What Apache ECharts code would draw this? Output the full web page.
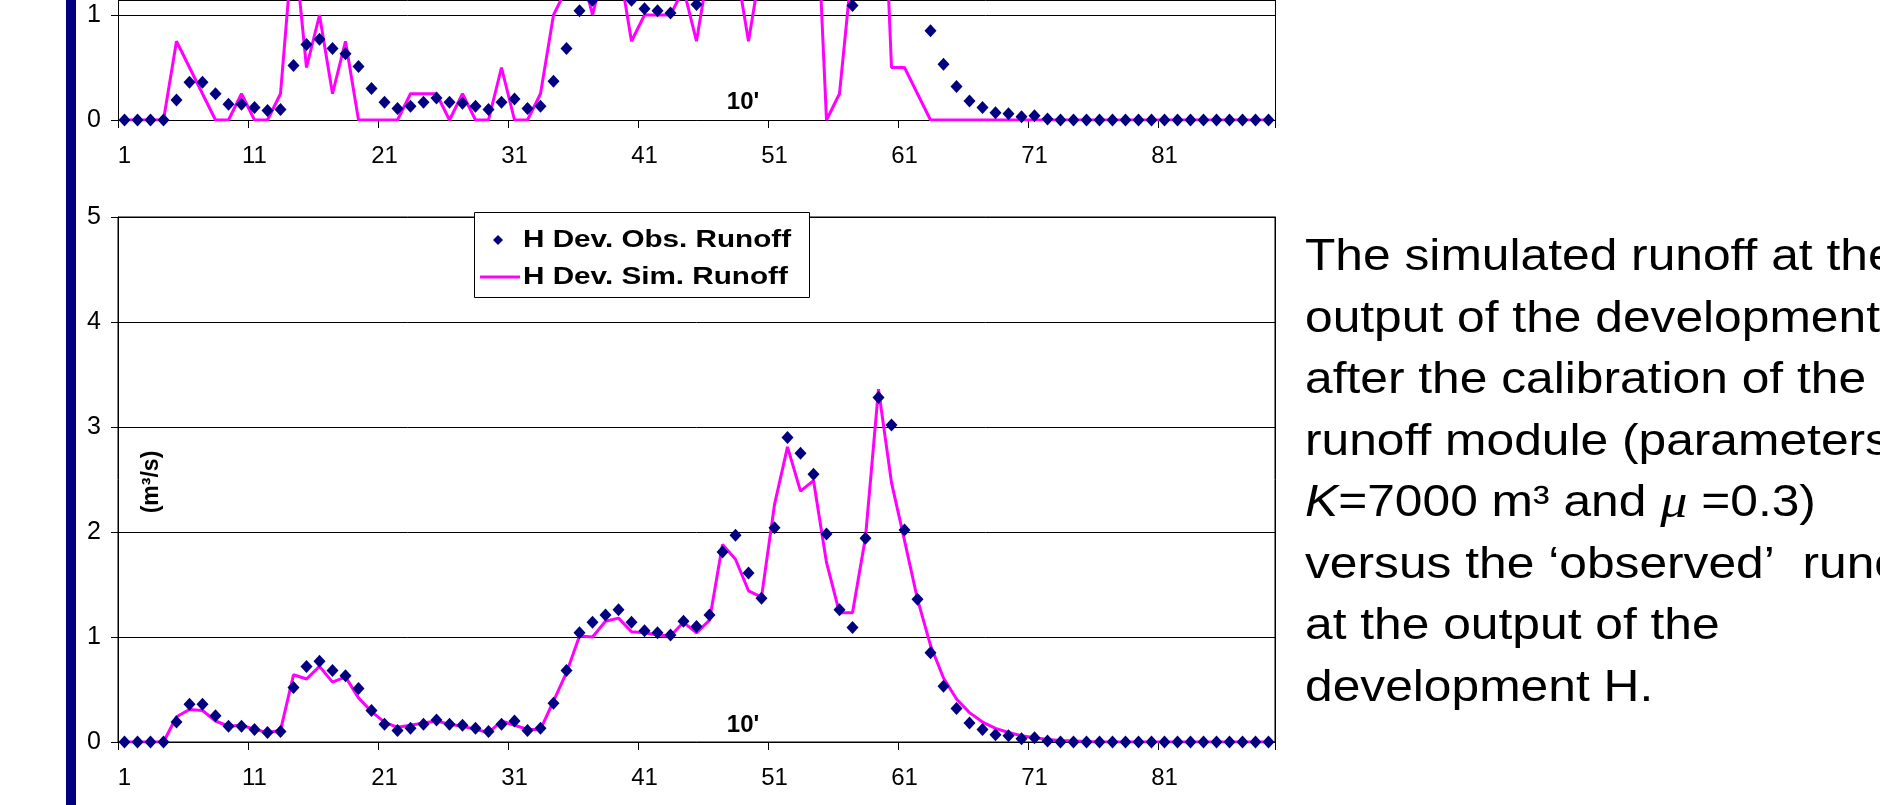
<!DOCTYPE html>
<html><head><meta charset="utf-8">
<script src="https://cdn.jsdelivr.net/npm/echarts@6/dist/echarts.min.js"></script>
<style>html,body{margin:0;padding:0;background:#fff;overflow:hidden}#c{width:1880px;height:805px}</style>
</head><body><div id="c"></div>
<script>
// ---- data ----
const categories = [1,2,3,4,5,6,7,8,9,10,11,12,13,14,15,16,17,18,19,20,21,22,23,24,25,26,27,28,29,30,
  31,32,33,34,35,36,37,38,39,40,41,42,43,44,45,46,47,48,49,50,51,52,53,54,55,56,57,58,59,60,
  61,62,63,64,65,66,67,68,69,70,71,72,73,74,75,76,77,78,79,80,81,82,83,84,85,86,87,88,89];
const obsRunoff = [0,0,0,0,0.19,0.36,0.36,0.25,0.15,0.15,0.12,0.09,0.10,0.52,0.72,0.77,0.68,0.63,0.51,0.30,
  0.17,0.11,0.13,0.17,0.21,0.17,0.16,0.13,0.10,0.17,0.20,0.11,0.13,0.37,0.68,1.04,1.14,1.21,1.26,1.14,
  1.06,1.04,1.02,1.15,1.10,1.21,1.81,1.97,1.61,1.37,2.04,2.90,2.75,2.55,1.98,1.26,1.09,1.94,3.28,3.02,
  2.02,1.36,0.85,0.53,0.32,0.18,0.12,0.07,0.06,0.03,0.04,0.01,0,0,0,0,0,0,0,0,0,0,0,0,0,0,0,0,0];
const simRunoffCalibrated = [0,0,0,0,0.24,0.31,0.30,0.20,0.15,0.16,0.12,0.09,0.11,0.64,0.60,0.72,0.57,0.62,0.42,0.29,
  0.19,0.14,0.16,0.18,0.20,0.17,0.15,0.12,0.09,0.20,0.16,0.12,0.12,0.39,0.66,1.01,1.00,1.15,1.18,1.05,
  1.04,1.02,1.01,1.14,1.04,1.16,1.88,1.74,1.44,1.38,2.26,2.81,2.39,2.49,1.71,1.23,1.23,1.95,3.36,2.47,
  1.92,1.36,0.92,0.61,0.41,0.28,0.19,0.13,0.09,0.06,0.04,0.025,0.015,0.01,0.005,0,0,0,0,0,0,0,0,0,0,0,0,0,0];
const simRunoffInitial = [0,0,0,0,0.75,0.5,0.25,0,0,0.25,0,0,0.25,1.75,0.5,1.0,0.25,0.75,0,0,
  0,0,0.25,0.25,0.25,0,0.25,0,0,0.5,0,0,0.25,1.0,1.25,1.5,1.0,1.5,1.5,0.75,
  1.0,1.0,1.0,1.25,0.75,1.5,2.0,1.5,0.75,1.5,2.5,3.0,2.75,2.75,0,0.25,1.5,2.5,3.5,0.5,
  0.5,0.25,0,0,0,0,0,0,0,0,0,0,0,0,0,0,0,0,0,0,0,0,0,0,0,0,0,0,0];
const yMaxFull = 5;               // bottom chart axis: 0..5
const yMaxVisibleTop = 1 + 1 / 7; // top chart is cut by the picture edge just above 1
const seriesNames = ['H Dev. Obs. Runoff', 'H Dev. Sim. Runoff'];
const intervalLabel = "10'";
const unitLabel = '(m³/s)';
const descLines = [
  'The simulated runoff at the',
  'output of the development',
  'after the calibration of the',
  'runoff module (parameters',
  '{i|K}=7000 m³ and {mu|μ} =0.3)',
  'versus the ‘observed’  runoff',
  'at the output of the',
  'development H.'
];

// ---- layout ----
const FONT = '"Liberation Sans", Arial, sans-serif';
const X0 = 118, PW = 1157;
const OBS_COLOR = '#000080', SIM_COLOR = '#FF00FF';

function xAxis(i) {
  return {
    type: 'category', gridIndex: i, data: categories, boundaryGap: true,
    axisLine: {lineStyle: {color: '#000', width: 1}},
    axisTick: {show: true, interval: 9, length: 8, lineStyle: {color: '#000'}},
    axisLabel: {interval: 9, fontSize: 24, fontFamily: FONT, color: '#000', margin: 24},
    splitLine: {show: false}
  };
}
function yAxis(i, max) {
  return {
    type: 'value', gridIndex: i, min: 0, max: max, interval: 1,
    axisLine: {show: true, lineStyle: {color: '#000', width: 1}},
    axisTick: {show: true, length: 7, lineStyle: {color: '#000'}},
    axisLabel: {fontSize: 25, fontFamily: FONT, color: '#000', margin: 17, showMaxLabel: i === 1},
    splitLine: {show: true, lineStyle: {color: '#000', width: 1}}
  };
}
function rightBorderAxis(i, max) {
  return {type: 'value', gridIndex: i, position: 'right', min: 0, max: max,
    axisLine: {show: true, onZero: false, lineStyle: {color: '#000', width: 1}},
    axisTick: {show: false}, axisLabel: {show: false}, splitLine: {show: false}};
}
function obsSeries(i) {
  return {name: seriesNames[0], type: 'scatter', xAxisIndex: i, yAxisIndex: i * 2, data: obsRunoff,
    symbol: 'diamond', symbolSize: [12, 13], itemStyle: {color: OBS_COLOR, opacity: 1}, z: 4, silent: true, clip: true};
}
function simSeries(i, data) {
  return {name: seriesNames[1], type: 'line', xAxisIndex: i, yAxisIndex: i * 2, data: data,
    symbol: 'none', lineStyle: {color: SIM_COLOR, width: 3}, itemStyle: {color: SIM_COLOR}, z: 3, silent: true, clip: true};
}

const textBase = {fontFamily: FONT, fill: '#000', align: 'left', verticalAlign: 'middle', textAlign: 'left', textVerticalAlign: 'middle'};
function txt(x, y, t, extra, scaleX) {
  return {type: 'text', x: x, y: y, scaleX: scaleX || 1, silent: true, style: Object.assign({text: t}, textBase, extra)};
}

const graphics = [
  {type: 'rect', shape: {x: 66, y: 0, width: 10, height: 805}, style: {fill: '#000080'}, silent: true},
  txt(743, 102, intervalLabel, {fontSize: 24, fontWeight: 'bold', align: 'center', textAlign: 'center'}),
  txt(743, 725, intervalLabel, {fontSize: 24, fontWeight: 'bold', align: 'center', textAlign: 'center'}),
  {type: 'text', x: 152, y: 482, rotation: Math.PI / 2, silent: true,
    style: Object.assign({text: unitLabel}, textBase, {fontSize: 23, fontWeight: 'bold', align: 'center', textAlign: 'center'})},
  // legend box
  {type: 'rect', shape: {x: 474.5, y: 212.5, width: 335, height: 85}, style: {fill: '#fff', stroke: '#000', lineWidth: 1}, z: 20, silent: true},
  {type: 'polygon', shape: {points: [[498, 235], [503, 240], [498, 245], [493, 240]]}, style: {fill: OBS_COLOR}, z: 21, silent: true},
  {type: 'line', shape: {x1: 480, y1: 277, x2: 520, y2: 277}, style: {stroke: SIM_COLOR, lineWidth: 3}, z: 21, silent: true},
  Object.assign(txt(523, 241, seriesNames[0], {fontSize: 23, fontWeight: 'bold'}, 1.29), {z: 21}),
  Object.assign(txt(523, 278, seriesNames[1], {fontSize: 23, fontWeight: 'bold'}, 1.29), {z: 21})
];
descLines.forEach(function (t, k) {
  graphics.push(txt(1305, 258 + k * 61.5, t, {
    fontSize: 44,
    rich: {
      i: {fontSize: 44, fontStyle: 'italic', fontFamily: FONT, fill: '#000'},
      mu: {fontSize: 48, fontStyle: 'italic', fontFamily: '"Liberation Serif", "Times New Roman", serif', fill: '#000'}
    }
  }, 1.13));
});

const chart = echarts.init(document.getElementById('c'), null, {renderer: 'canvas'});
chart.setOption({
  animation: false,
  backgroundColor: '#fff',
  grid: [
    {left: X0, top: 0, width: PW, height: 120, show: false},
    {left: X0, top: 217, width: PW, height: 525, show: true, borderColor: '#000', borderWidth: 1, backgroundColor: '#fff'}
  ],
  xAxis: [xAxis(0), xAxis(1)],
  yAxis: [yAxis(0, yMaxVisibleTop), rightBorderAxis(0, yMaxVisibleTop), yAxis(1, yMaxFull), rightBorderAxis(1, yMaxFull)],
  series: [obsSeries(0), simSeries(0, simRunoffInitial), obsSeries(1), simSeries(1, simRunoffCalibrated)],
  graphic: graphics
});
</script>
</body></html>
